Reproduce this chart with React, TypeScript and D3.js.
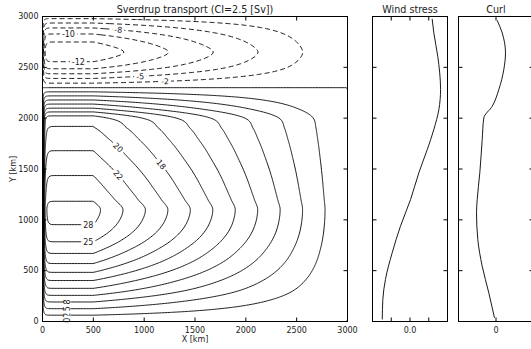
import { useEffect, useRef } from 'react';
import * as d3 from 'd3';

const WIDTH = 531;
const HEIGHT = 349;

const BASIN_KM = 3000;
const FLAT_WEST_KM = 500; // transport does not change west of this
const BOUNDARY_KM = 12; // western boundary layer width

const transportY = [0, 100, 200, 300, 400, 500, 600, 700, 800, 900, 1000, 1100, 1200, 1300, 1400, 1500, 1600, 1700, 1800, 1900, 2000, 2100, 2200, 2300, 2400, 2500, 2600, 2650, 2700, 2800, 2900, 3000];
const transportSv = [0, 4.0, 7.8, 11.6, 14.9, 18.0, 20.8, 23.2, 25.3, 26.9, 27.9, 28.3, 27.3, 26.3, 25.35, 24.35, 23.3, 22.3, 21.25, 20.2, 18.6, 12.4, 6.2, 0, -5.5, -10.6, -13.6, -14.2, -13.6, -11.0, -6.9, -1.3];

// wind stress panel
const windY = [20, 216, 413, 676, 937, 1200, 1462, 1691, 1888, 2085, 2281, 2609, 2839, 2977];
const windStress = [-0.148, -0.145, -0.131, -0.095, -0.051, 0.003, 0.047, 0.092, 0.127, 0.154, 0.163, 0.148, 0.127, 0.118];

// curl panel
const curlY = [36, 282, 544, 806, 1069, 1200, 1462, 1790, 2003, 2117, 2281, 2478, 2642, 2839, 2963];
const curlValue = [-0.04, -0.192, -0.368, -0.485, -0.52, -0.501, -0.432, -0.368, -0.325, -0.101, 0.075, 0.208, 0.253, 0.165, 0.03];

const posLevels = [2.5, 5, 7.5, 10, 12.5, 15, 17.5, 20, 22.5, 25, 27.5];
const negLevels = [2.5, 5, 7.5, 10, 12.5]; // drawn as negative, dashed

const kmTicks = [0, 500, 1000, 1500, 2000, 2500, 3000];
const windTicks = [-0.1, 0, 0.1];
const curlTicks = [0];

// inline contour labels: level and rough spot (km)
const contourLabels = [
  { level: -10, x: 255, y: 2825 },
  { level: -7.5, x: 745, y: 2880 },
  { level: -12.5, x: 353, y: 2555 },
  { level: -5, x: 960, y: 2392 },
  { level: -2.5, x: 1206, y: 2350 },
  { level: 20, x: 745, y: 1711 },
  { level: 17.5, x: 1167, y: 1544 },
  { level: 22.5, x: 745, y: 1426 },
  { level: 27.5, x: 451, y: 963 },
  { level: 25, x: 451, y: 777 },
  { level: 7.5, x: 245, y: 192, rotate: -90 },
  { level: 5, x: 245, y: 128, rotate: -90 },
  { level: 2.5, x: 245, y: 59, rotate: -90 },
  { level: 0, x: 245, y: 12, rotate: -90 },
];

// Fritsch-Carlson monotone cubic through the table
function monotone(xs: number[], ys: number[]) {
  const n = xs.length;
  const d: number[] = [];
  for (let i = 0; i < n - 1; i++) d.push((ys[i + 1] - ys[i]) / (xs[i + 1] - xs[i]));
  const m = new Array(n).fill(0);
  m[0] = d[0];
  m[n - 1] = d[n - 2];
  for (let i = 1; i < n - 1; i++) m[i] = d[i - 1] * d[i] <= 0 ? 0 : (d[i - 1] + d[i]) / 2;
  for (let i = 0; i < n - 1; i++) {
    if (d[i] === 0) { m[i] = 0; m[i + 1] = 0; continue; }
    const a = m[i] / d[i], b = m[i + 1] / d[i], s = a * a + b * b;
    if (s > 9) { const t = 3 / Math.sqrt(s); m[i] = t * a * d[i]; m[i + 1] = t * b * d[i]; }
  }
  return (x: number) => {
    let i = d3.bisectRight(xs, x) - 1;
    i = Math.max(0, Math.min(n - 2, i));
    const h = xs[i + 1] - xs[i];
    const t = (x - xs[i]) / h, t2 = t * t, t3 = t2 * t;
    return (2 * t3 - 3 * t2 + 1) * ys[i] + (t3 - 2 * t2 + t) * h * m[i] + (-2 * t3 + 3 * t2) * ys[i + 1] + (t3 - t2) * h * m[i + 1];
  };
}

const westTransport = monotone(transportY, transportSv);

// Sverdrup: linear to zero at the east wall, flat west of 500 km, closed by a thin boundary layer
function psi(x: number, y: number) {
  const interior = (BASIN_KM - Math.max(x, FLAT_WEST_KM)) / (BASIN_KM - FLAT_WEST_KM);
  return westTransport(y) * interior * (1 - Math.exp(-x / BOUNDARY_KM));
}

function fmtLevel(v: number) {
  if (Math.abs(v - Math.trunc(v)) === 0.5) {
    const f = Math.floor(v);
    return String(f % 2 === 0 ? f : f + 1);
  }
  return String(Math.round(v));
}

function lerpIndex(arr: number[], t: number) {
  const n = arr.length;
  const tt = Math.max(0, Math.min(n - 1, t));
  const i = Math.min(n - 2, Math.floor(tt));
  return arr[i] + (arr[i + 1] - arr[i]) * (tt - i);
}

export default function App() {
  const svgRef = useRef<SVGSVGElement>(null);

  useEffect(() => {
    if (!svgRef.current) return;
    const svg = d3.select(svgRef.current);
    svg.selectAll('*').remove();

    const font = 'DejaVu Sans, sans-serif';
    const x = d3.scaleLinear().domain([0, BASIN_KM]).range([42.5, 347.5]);
    const y = d3.scaleLinear().domain([0, BASIN_KM]).range([321.5, 16.5]);
    const xw = d3.scaleLinear().domain([-0.2, 0.2]).range([372.5, 447.5]);
    const xc = d3.scaleLinear().domain([-1, 1]).range([458.5, 533.5]);

    svg.append('rect').attr('width', WIDTH).attr('height', HEIGHT).attr('fill', '#fff');

    // grid, fine near the west wall
    const gx: number[] = [];
    for (let i = 0; i < 40; i++) gx.push(i * 1.5);
    for (let i = 0; i <= 196; i++) gx.push(60 + i * 15);
    const gy = d3.range(0, 3001, 10);
    const nx = gx.length, ny = gy.length;
    const vals = new Array(nx * ny);
    const negVals = new Array(nx * ny);
    for (let j = 0; j < ny; j++) {
      for (let i = 0; i < nx; i++) {
        const v = psi(gx[i], gy[j]);
        vals[j * nx + i] = v;
        negVals[j * nx + i] = -v;
      }
    }

    const toPath = (geom: d3.ContourMultiPolygon) =>
      geom.coordinates
        .map((poly) =>
          poly
            .map((ring) =>
              'M' +
              ring
                .map(([u, v]) => `${x(lerpIndex(gx, u - 0.5)).toFixed(2)},${y(lerpIndex(gy, v - 0.5)).toFixed(2)}`)
                .join('L') +
              'Z'
            )
            .join('')
        )
        .join('');

    svg.append('clipPath').attr('id', 'plotclip')
      .append('rect').attr('x', x(0)).attr('y', y(BASIN_KM))
      .attr('width', x(BASIN_KM) - x(0)).attr('height', y(0) - y(BASIN_KM));

    const cg = svg.append('g').attr('clip-path', 'url(#plotclip)')
      .attr('fill', 'none').attr('stroke', '#000').attr('stroke-width', 0.9);

    const gen = d3.contours().size([nx, ny]);
    gen.thresholds([1e-6, ...posLevels])(vals).forEach((c) => {
      cg.append('path').attr('d', toPath(c));
    });
    gen.thresholds(negLevels)(negVals).forEach((c) => {
      cg.append('path').attr('d', toPath(c)).attr('stroke-dasharray', '5,3');
    });

    // labels
    const lg = svg.append('g').attr('font-family', font).attr('font-size', 8);
    contourLabels.forEach((lb) => {
      let yy = lb.y;
      if (lb.level !== 0) {
        let lo = Math.max(0, lb.y - 70), hi = Math.min(BASIN_KM, lb.y + 70);
        let flo = psi(lb.x, lo) - lb.level;
        const fhi = psi(lb.x, hi) - lb.level;
        if (flo * fhi < 0) {
          for (let k = 0; k < 40; k++) {
            const mid = (lo + hi) / 2;
            const fm = psi(lb.x, mid) - lb.level;
            if (fm * flo <= 0) hi = mid; else { lo = mid; flo = fm; }
          }
          yy = (lo + hi) / 2;
        }
      }
      let angle = lb.rotate ?? 0;
      if (lb.rotate === undefined) {
        const e = 5;
        const gxv = (psi(lb.x + e, yy) - psi(lb.x - e, yy)) / (2 * e);
        const gyv = (psi(lb.x, yy + e) - psi(lb.x, yy - e)) / (2 * e);
        angle = (Math.atan2(-gxv, -gyv) * 180) / Math.PI;
        if (angle > 90) angle -= 180;
        if (angle <= -90) angle += 180;
      }
      const text = fmtLevel(lb.level);
      const tw = [...text].reduce((s, ch) => s + (ch === '-' ? 0.361 : 0.636) * 8, 0);
      const px = x(lb.x), py = y(yy);
      const g = lg.append('g').attr('transform', `translate(${px},${py}) rotate(${angle})`);
      g.append('rect').attr('x', -tw / 2 - 2).attr('y', -3).attr('width', tw + 4).attr('height', 6).attr('fill', '#fff');
      g.append('text').attr('text-anchor', 'middle').attr('dy', '0.36em').attr('fill', '#222').text(text);
    });

    // side panels
    const wind = windY.map((yy, i) => [xw(windStress[i]), y(yy)] as [number, number]);
    svg.append('path').attr('d', d3.line().curve(d3.curveMonotoneY)(wind))
      .attr('fill', 'none').attr('stroke', '#000').attr('stroke-width', 0.9);
    const curl = curlY.map((yy, i) => [xc(curlValue[i]), y(yy)] as [number, number]);
    svg.append('path').attr('d', d3.line().curve(d3.curveMonotoneY)(curl))
      .attr('fill', 'none').attr('stroke', '#000').attr('stroke-width', 0.9);

    // frames and ticks
    const frames = [
      { sx: x, x0: x(0), x1: x(BASIN_KM), xt: kmTicks, xl: kmTicks.map(String), yl: true, title: 'Sverdrup transport (CI=2.5 [Sv])' },
      { sx: xw, x0: xw(-0.2), x1: xw(0.2), xt: windTicks, xl: ['', '0.0', ''], yl: false, title: 'Wind stress' },
      { sx: xc, x0: xc(-1), x1: xc(1), xt: curlTicks, xl: ['0'], yl: false, title: 'Curl' },
    ];
    const top = y(BASIN_KM), bot = y(0), tl = 4;
    frames.forEach((f) => {
      const g = svg.append('g').attr('stroke', '#000').attr('stroke-width', 1);
      g.append('rect').attr('x', f.x0).attr('y', top).attr('width', f.x1 - f.x0).attr('height', bot - top).attr('fill', 'none');
      f.xt.forEach((t) => {
        const px = f.sx(t);
        g.append('line').attr('x1', px).attr('x2', px).attr('y1', bot).attr('y2', bot - tl);
        g.append('line').attr('x1', px).attr('x2', px).attr('y1', top).attr('y2', top + tl);
      });
      kmTicks.forEach((t) => {
        const py = y(t);
        g.append('line').attr('x1', f.x0).attr('x2', f.x0 + tl).attr('y1', py).attr('y2', py);
        g.append('line').attr('x1', f.x1).attr('x2', f.x1 - tl).attr('y1', py).attr('y2', py);
      });
      const tg = svg.append('g').attr('font-family', font).attr('font-size', 8).attr('fill', '#222');
      f.xt.forEach((t, i) => {
        if (!f.xl[i]) return;
        tg.append('text').attr('x', f.sx(t)).attr('y', bot + 11.5).attr('text-anchor', 'middle').text(f.xl[i]);
      });
      if (f.yl) {
        kmTicks.forEach((t) => {
          tg.append('text').attr('x', f.x0 - 4).attr('y', y(t)).attr('dy', '0.35em').attr('text-anchor', 'end').text(String(t));
        });
      }
      svg.append('text').attr('x', (f.x0 + f.x1) / 2).attr('y', 13).attr('text-anchor', 'middle')
        .attr('font-family', font).attr('font-size', 9.6).attr('fill', '#222').text(f.title);
    });

    svg.append('text').attr('x', (x(0) + x(BASIN_KM)) / 2).attr('y', 341.5).attr('text-anchor', 'middle')
      .attr('font-family', font).attr('font-size', 8).attr('fill', '#222').text('X [km]');
    svg.append('text').attr('transform', `translate(16,${(top + bot) / 2}) rotate(-90)`).attr('text-anchor', 'middle')
      .attr('font-family', font).attr('font-size', 8).attr('fill', '#222').text('Y [km]');
  }, []);

  return (
    <svg
      ref={svgRef}
      width={WIDTH}
      height={HEIGHT}
      style={{ position: 'absolute', left: 0, top: 0, overflow: 'hidden' }}
    />
  );
}
